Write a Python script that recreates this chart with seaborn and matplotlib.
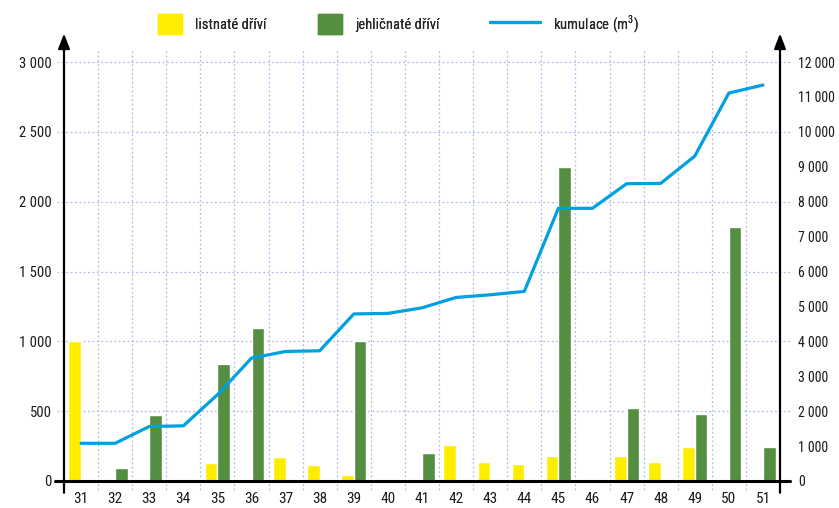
import numpy as np
import pandas as pd
import matplotlib
matplotlib.use("Agg")
import matplotlib.pyplot as plt
from matplotlib.ticker import FuncFormatter
from matplotlib.patches import Patch
from matplotlib.lines import Line2D
import seaborn as sns

# Data
weeks = [str(w) for w in range(31, 52)]
listnate = [1000, 0, 0, 0, 132, 0, 175, 117, 45, 0, 0, 257, 136, 121, 179, 0, 179, 136, 243, 0, 0]
jehlicnate = [0, 90, 475, 0, 835, 1095, 0, 0, 1000, 0, 198, 0, 0, 0, 2250, 0, 521, 0, 479, 1821, 243]
kumulace = [1080, 1080, 1560, 1580, 2470, 3520, 3710, 3730, 4785, 4800, 4960, 5257, 5333,
            5429, 7810, 7810, 8514, 8524, 9305, 11110, 11340]

series_names = ["listnaté dříví", "jehličnaté dříví"]
line_name = "kumulace (m$^3$)"

yellow = "#FFED00"
green = "#548F41"
blue = "#00A0E3"
grid_col = "#aebbe9"

sns.set_style("white")
plt.rcParams['font.family'] = ['Roboto Condensed', 'DejaVu Sans']
plt.rcParams['mathtext.fontset'] = 'custom'
plt.rcParams['mathtext.rm'] = 'Roboto Condensed'

df = pd.DataFrame({
    "week": weeks * 2,
    "value": listnate + jehlicnate,
    "druh": [series_names[0]] * len(weeks) + [series_names[1]] * len(weeks),
})

fig = plt.figure(figsize=(8.39, 5.08), dpi=100)
W, H = 839, 508
ax = fig.add_axes([64 / W, (H - 481) / H, (780 - 64) / W, (481 - 62) / H])

sns.barplot(data=df, x="week", y="value", hue="druh", palette=[yellow, green],
            width=0.74, saturation=1, ax=ax, legend=False)
ax.set_xlim(-0.5, len(weeks) - 0.5)
ax.set_ylim(0, 3000)
ax.set_xlabel("")
ax.set_ylabel("")
for s in ax.spines.values():
    s.set_visible(False)

# dotted grid drawn a bit past the plot area like the original
for yv in range(500, 3001, 500):
    ax.plot([-0.01, 1.014], [yv, yv], transform=ax.get_yaxis_transform(),
            color=grid_col, lw=0.9, ls=(0, (1.5, 2)), clip_on=False, zorder=0)
for k in range(len(weeks) - 1):
    ax.plot([k + 0.5, k + 0.5], [-0.022, 1.03], transform=ax.get_xaxis_transform(),
            color=grid_col, lw=0.9, ls=(0, (1.5, 2)), clip_on=False, zorder=0)

# baseline and arrowed axes
ax.plot([-0.012, 1.014], [0, 0], transform=ax.get_yaxis_transform(),
        color="black", lw=2.2, clip_on=False, zorder=5)
for xf in (0, 1):
    ax.annotate("", xy=(xf, 1.068), xytext=(xf, -0.028), xycoords="axes fraction",
                arrowprops=dict(arrowstyle="-|>,head_length=0.9,head_width=0.35",
                                color="black", lw=1.6, shrinkA=0, shrinkB=0),
                zorder=6, annotation_clip=False)

fmt = FuncFormatter(lambda v, p: f"{int(v):,}".replace(",", " "))
ax.yaxis.set_major_formatter(fmt)
ax.set_yticks(range(0, 3001, 500))
ax.tick_params(axis="y", length=0, pad=9, labelsize=10.5, colors="#1a1a1a")
ax.tick_params(axis="x", length=0, pad=8, labelsize=11, colors="#1a1a1a")

ax2 = ax.twinx()
sns.lineplot(x=np.arange(len(weeks)), y=kumulace, color=blue, lw=2.3, ax=ax2)
ax2.set_ylim(0, 12000)
ax2.set_xlim(-0.5, len(weeks) - 0.5)
for s in ax2.spines.values():
    s.set_visible(False)
ax2.set_yticks(range(0, 12001, 1000))
ax2.yaxis.set_major_formatter(fmt)
ax2.tick_params(axis="y", length=0, pad=13, labelsize=10, colors="#1a1a1a")

# legend on top, one entry per position as in the original
entries = [
    (Patch(color=yellow), series_names[0], 158, 1.65),
    (Patch(color=green), series_names[1], 318, 1.65),
    (Line2D([], [], color=blue, lw=2.3), line_name, 490, 3.4),
]
for handle, label, x0, hl in entries:
    leg = fig.legend([handle], [label], loc="center left", bbox_to_anchor=(x0 / W, 1 - 24 / H),
                     frameon=False, fontsize=10.5, handlelength=hl, handleheight=1.65,
                     handletextpad=0.9, borderpad=0, borderaxespad=0)
    fig.add_artist(leg)

fig.savefig("out.png", dpi=100)
